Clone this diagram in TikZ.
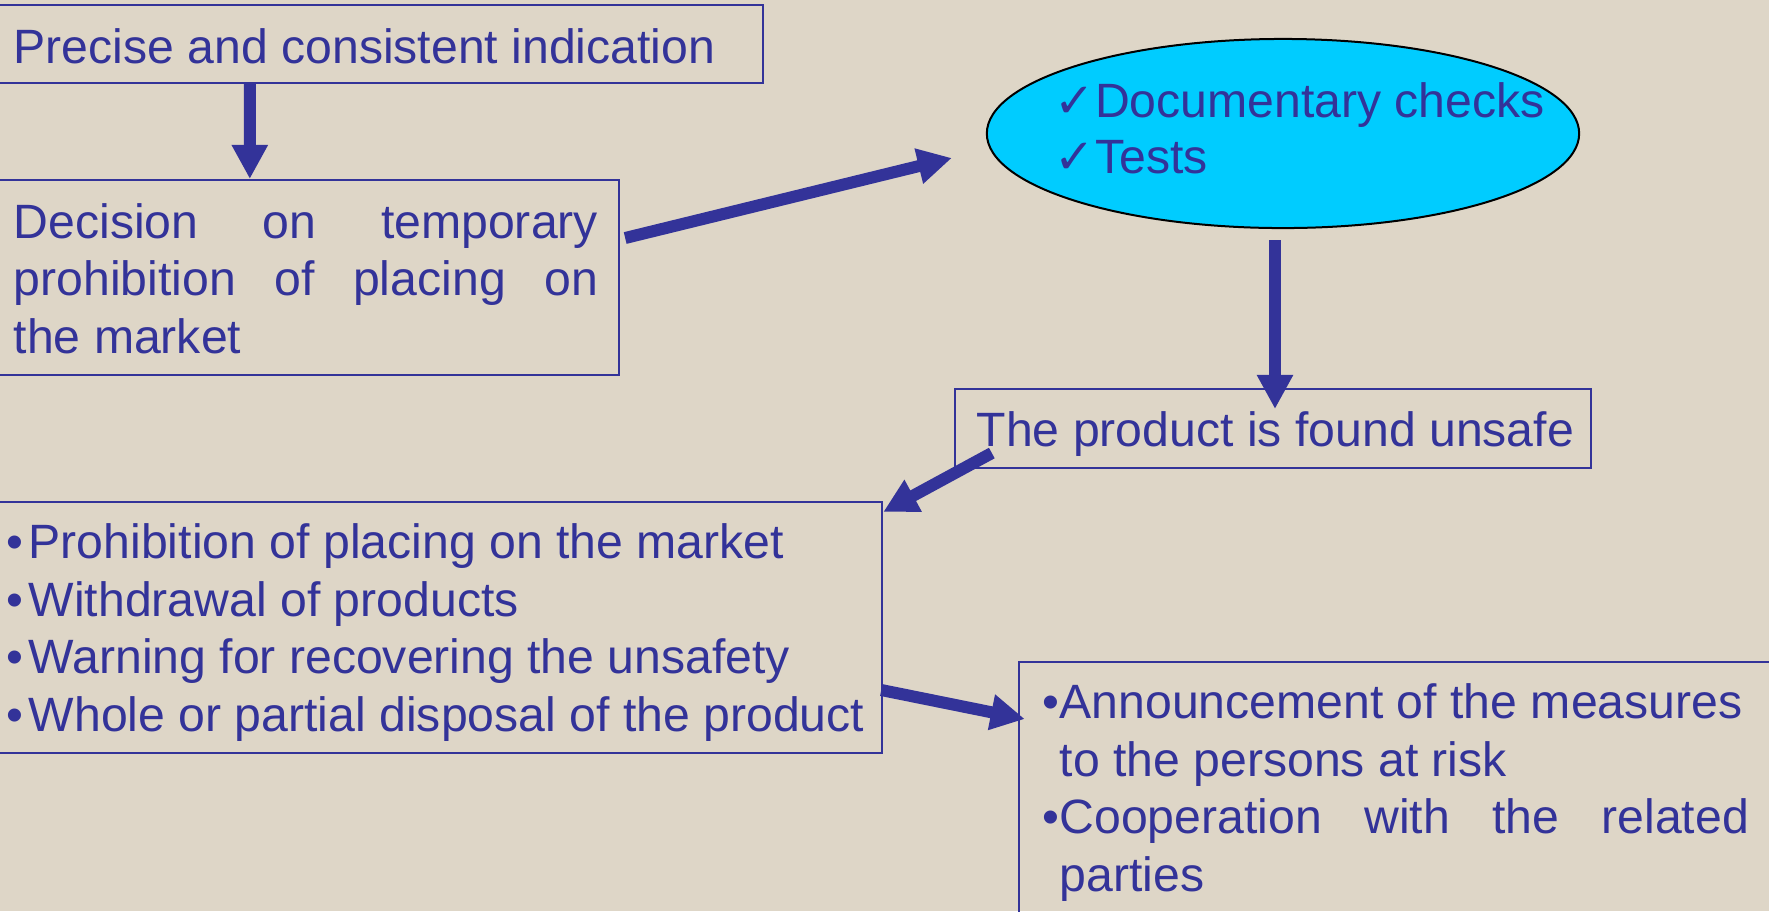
\documentclass[tikz,border=0pt]{standalone}
\usepackage{fontspec}
\setmainfont{Liberation Sans}
\newfontfamily\symfont{DejaVu Sans}
\usetikzlibrary{arrows.meta,shapes.geometric,calc}
\definecolor{ink}{HTML}{333399}
\definecolor{paper}{HTML}{DED6C7}
\definecolor{sky}{HTML}{00CCFF}
\newcommand{\tickmark}{{\symfont ✓}}

\begin{document}
\begin{tikzpicture}[x=0.01cm,y=-0.01cm,
  frame/.style={draw=ink, line width=0.02cm, rectangle, inner sep=0pt},
  txt/.style={text=ink, inner sep=0pt, anchor=base west,
              font=\fontsize{13.7}{16}\selectfont},
  arr/.style={draw=ink, fill=ink, line width=0.12cm,
              -{Triangle[length=0.34cm,width=0.34cm]}}]

% page
\fill[paper] (0,0) rectangle (1769,911);
\useasboundingbox (0,0) rectangle (1769,911);

% boxes
\node[frame, minimum width=7.68cm, minimum height=0.78cm] (b1) at (379,44) {};
\node[frame, minimum width=6.24cm, minimum height=1.95cm] (b2) at (307,277.5) {};
\node[ellipse, draw=black, line width=0.02cm, fill=sky, inner sep=0pt,
      minimum width=5.92cm, minimum height=1.89cm] (ell) at (1283,133.5) {};
\node[frame, minimum width=6.36cm, minimum height=0.79cm] (b3) at (1273,428.5) {};
\node[frame, minimum width=8.87cm, minimum height=2.51cm] (b4) at (438.5,627.5) {};
\node[frame, minimum width=7.61cm, minimum height=2.68cm] (b5) at (1399.5,796) {};

% texts
\node[txt] (t1) at (13,63) {Precise and consistent indication};

\node[txt] (t2a) at (13,238) {\makebox[5.84cm][s]{Decision on temporary}};
\node[txt] (t2b) at (13,295) {\makebox[5.84cm][s]{prohibition of placing on}};
\node[txt] (t2c) at (13,353) {the market};

\node[txt] (tea) at (1054,117) {\tickmark{}Documentary checks};
\node[txt] (teb) at (1054,173) {\tickmark{}Tests};

\node[txt] (t3) at (976,446) {The product is found unsafe};

\node[txt] (t4a) at (5.5,558) {•\hspace{0.057cm}Prohibition of placing on the market};
\node[txt] (t4b) at (5.5,616) {•\hspace{0.057cm}Withdrawal of products};
\node[txt] (t4c) at (5.5,673) {•\hspace{0.057cm}Warning for recovering the unsafety};
\node[txt] (t4d) at (5.5,731) {•\hspace{0.057cm}Whole or partial disposal of the product};

\node[txt] (t5a) at (1042,718) {•Announcement of the measures};
\node[txt] (t5b) at (1059,776) {to the persons at risk};
\node[txt] (t5c) at (1042,833) {•\makebox[6.89cm][s]{Cooperation with the related}};
\node[txt] (t5d) at (1059,891) {parties};

% connectors
\draw[arr] ($(b1.south west)+(256,0)$) -- ($(b2.north west)+(256,0)$);
\draw[arr] ($(b2.east)+(5,-39.5)$) -- ($(ell.west)+(-34,24.5)$);
\draw[arr] ($(ell.south)+(-8,11)$) -- ($(b3.north)+(2,21)$);
\draw[arr] ($(b3.south west)+(38,-16)$) -- ($(b4.north east)+(0,11)$);
\draw[arr] ($(b4.east)+(-2,62.5)$) -- ($(b5.west)+(7,-77)$);

\end{tikzpicture}
\end{document}
